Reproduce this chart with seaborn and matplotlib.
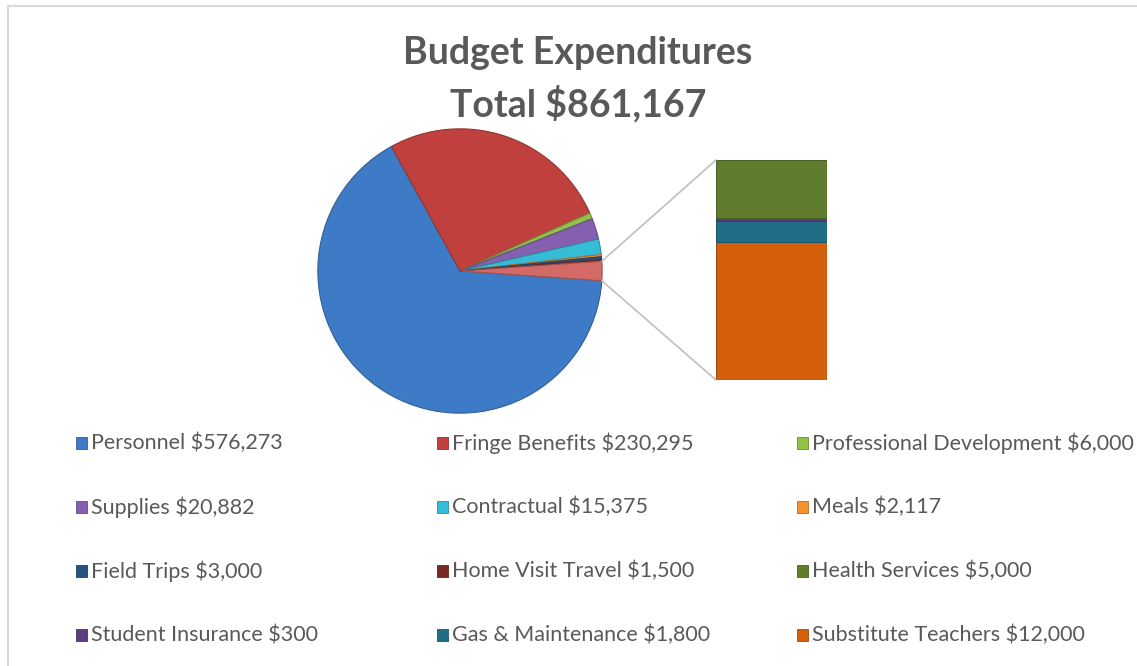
import numpy as np
import matplotlib
matplotlib.use("Agg")
import matplotlib.pyplot as plt
from matplotlib.patches import ConnectionPatch, Rectangle
from matplotlib.lines import Line2D
import seaborn as sns

# ── Data ────────────────────────────────────────────────────────────────
categories = ["Personnel", "Fringe Benefits", "Professional Development",
              "Supplies", "Contractual", "Meals",
              "Field Trips", "Home Visit Travel", "Health Services",
              "Student Insurance", "Gas & Maintenance", "Substitute Teachers"]
amounts = [576273, 230295, 6000,
           20882, 15375, 2117,
           3000, 1500, 5000,
           300, 1800, 12000]
colours = ["#3E7BC6", "#C0403D", "#93C047",
           "#8560B0", "#35BCD6", "#F59331",
           "#25507F", "#7A2826", "#5F7D2C",
           "#5A3D7E", "#1F6E86", "#D4600C"]
# the last four entries are split out into the stacked bar
n_split = 4
other_colour = "#D46A66"
title_lines = ["Budget Expenditures", "Total $861,167"]

sns.set_theme(style="white")
plt.rcParams["font.family"] = ["Lato", "DejaVu Sans"]
TXT = "#595959"

W, H = 1137, 666
fig = plt.figure(figsize=(W / 100, H / 100), dpi=100)
fig.patch.set_facecolor("white")

def fig_box(x0, y0, x1, y1):
    """pixel box (top-left origin) -> figure fraction rect"""
    return [x0 / W, 1 - y1 / H, (x1 - x0) / W, (y1 - y0) / H]

# ── Pie ─────────────────────────────────────────────────────────────────
pie_vals = amounts[:-n_split] + [sum(amounts[-n_split:])]
pie_cols = colours[:-n_split] + [other_colour]
other_half = pie_vals[-1] / sum(pie_vals) * 360 / 2

cx, cy, r = 460, 271, 145
ax_pie = fig.add_axes(fig_box(cx - r, cy - r, cx + r, cy + r))
wedges, _ = ax_pie.pie(pie_vals, colors=pie_cols, startangle=-other_half,
                       counterclock=False, radius=1,
                       wedgeprops=dict(linewidth=0.8))
for w, c in zip(wedges, pie_cols):
    w.set_edgecolor(sns.dark_palette(c, 4)[2])
ax_pie.set_xlim(-1.02, 1.02)
ax_pie.set_ylim(-1.02, 1.02)
ax_pie.set_aspect("equal")
ax_pie.axis("off")

# ── Stacked bar (split-out categories) ─────────────────────────────────
ax_bar = fig.add_axes(fig_box(716, 160, 827, 380))
bar_vals = amounts[-n_split:][::-1]
bar_cols = colours[-n_split:][::-1]
bottom = 0
for v, c in zip(bar_vals, bar_cols):
    ax_bar.bar(0, v, width=1.0, bottom=bottom, color=c,
               edgecolor=sns.dark_palette(c, 4)[2], linewidth=0.8)
    bottom += v
ax_bar.set_xlim(-0.5, 0.5)
ax_bar.set_ylim(0, bottom)
ax_bar.axis("off")

# ── Connector lines ─────────────────────────────────────────────────────
for ang, ybar in [(other_half, bottom), (-other_half, 0)]:
    xy = (np.cos(np.radians(ang)), np.sin(np.radians(ang)))
    con = ConnectionPatch(xyA=xy, coordsA=ax_pie.transData,
                          xyB=(-0.5, ybar), coordsB=ax_bar.transData,
                          color="#BFBFBF", linewidth=1.2)
    fig.add_artist(con)

# ── Title ───────────────────────────────────────────────────────────────
fig.text(578 / W, 1 - 53 / H, title_lines[0], ha="center", va="center",
         fontsize=27, fontweight="bold", color=TXT)
fig.text(578 / W, 1 - 104 / H, title_lines[1], ha="center", va="center",
         fontsize=27, fontweight="bold", color=TXT)

# ── Legend (row-major, 3 columns) ──────────────────────────────────────
col_x = [76, 437, 797]
row_y = [443, 507, 571, 635]
for i, (name, val, c) in enumerate(zip(categories, amounts, colours)):
    row, col = divmod(i, 3)
    x, y = col_x[col], row_y[row]
    fig.patches.append(Rectangle((x / W, 1 - (y + 6) / H), 11 / W, 12 / H,
                                 transform=fig.transFigure, facecolor=c,
                                 edgecolor=sns.dark_palette(c, 4)[2],
                                 linewidth=0.6))
    fig.text((x + 15) / W, 1 - y / H, f"{name} ${val:,}", ha="left",
             va="center", fontsize=15.5, color=TXT)

# screenshot frame
fig.add_artist(Line2D([8 / W, 1], [1 - 6 / H, 1 - 6 / H],
                      transform=fig.transFigure, color="#D9D9D9", lw=1.5))
fig.add_artist(Line2D([8 / W, 8 / W], [0, 1 - 6 / H],
                      transform=fig.transFigure, color="#D9D9D9", lw=1.5))

fig.savefig("out.png", dpi=100, facecolor="white")
